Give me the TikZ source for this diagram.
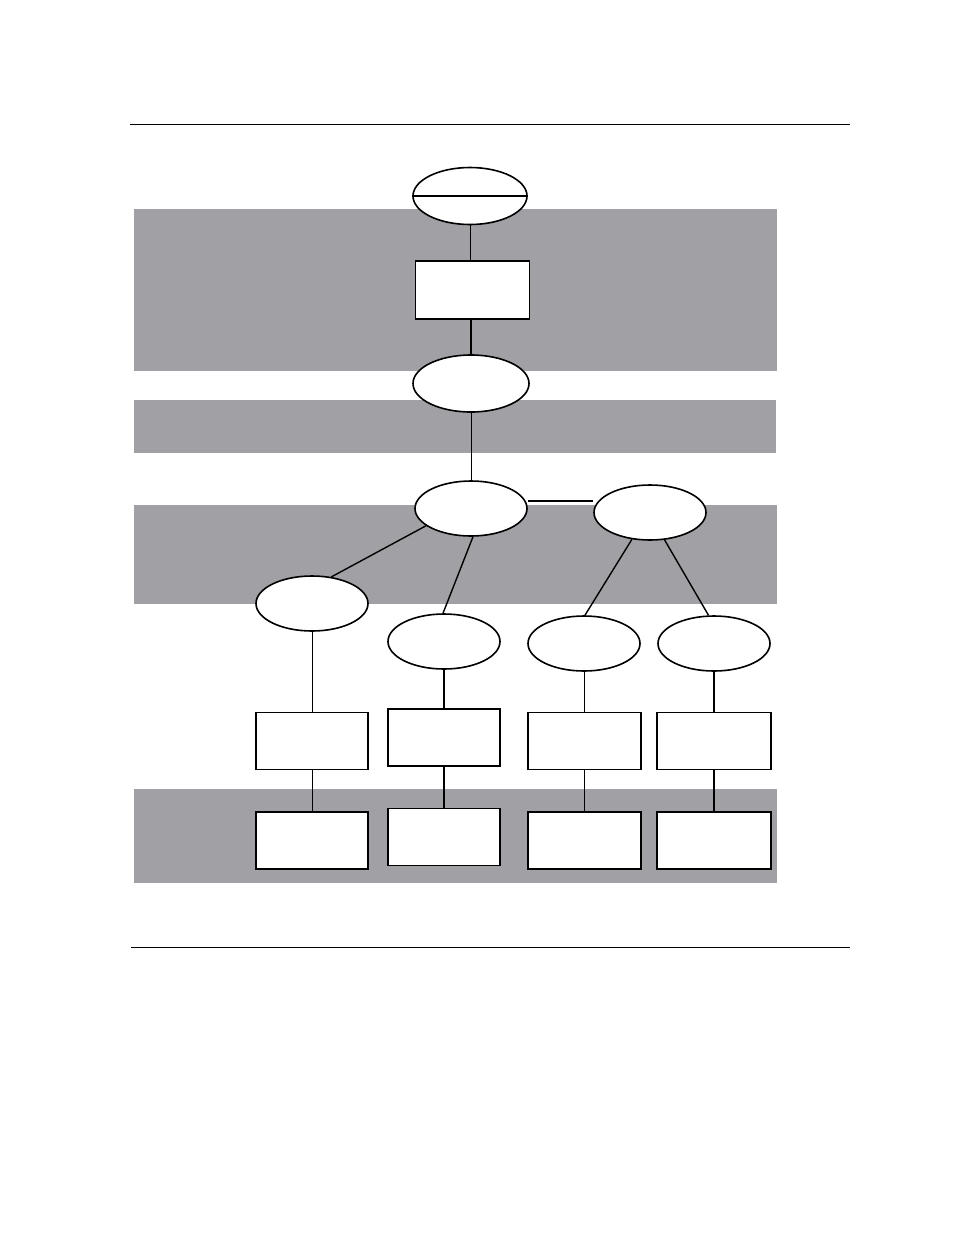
\documentclass[tikz,border=0pt]{standalone}
\usetikzlibrary{shapes.geometric}
\definecolor{bandgray}{RGB}{161,160,165}
\begin{document}
\begin{tikzpicture}[x=1pt,y=-1pt,
  band/.style={fill=bandgray,draw=none},
  oval/.style={ellipse,draw,line width=1.6pt,fill=white,inner sep=0pt,minimum width=112pt,minimum height=55pt},
  boxnode/.style={rectangle,draw,line width=1.8pt,fill=white,inner sep=0pt,minimum width=112pt,minimum height=57pt},
  thin link/.style={line width=1pt},
  thick link/.style={line width=2.6pt}]
\useasboundingbox (0,0) rectangle (954,1235);
% rules
\draw[line width=1pt] (130,124.5) -- (850,124.5);
\draw[line width=1.8pt] (131,947.5) -- (850,947.5);
% bands
\fill[band] (134,209) rectangle (777,371);
\fill[band] (134,400) rectangle (776,453);
\fill[band] (134,505) rectangle (777,604);
\fill[band] (134,789) rectangle (777,883);
% nodes
\node[oval,minimum width=114pt,minimum height=57pt] (e1) at (470,196) {};
\node[boxnode,minimum width=114pt,minimum height=58pt] (b1) at (472.5,290) {};
\node[oval,minimum width=116pt,minimum height=57pt] (e2) at (471,383.5) {};
\node[oval] (e3) at (471,508.5) {};
\node[oval] (e4) at (650,512.5) {};
\node[oval] (e5) at (312,603.5) {};
\node[oval] (e6) at (444,641.5) {};
\node[oval] (e7) at (584,643.5) {};
\node[oval] (e8) at (714,643.5) {};
\node[boxnode] (b5) at (312,741) {};
\node[boxnode] (b6) at (444,737.5) {};
\node[boxnode,minimum width=113pt] (b7) at (584.5,741) {};
\node[boxnode,minimum width=114pt] (b8) at (714,741) {};
\node[boxnode] (b9) at (312,840.5) {};
\node[boxnode] (b10) at (444,837) {};
\node[boxnode,minimum width=113pt] (b11) at (584.5,840.5) {};
\node[boxnode,minimum width=114pt] (b12) at (714,840.5) {};
% divider in top ellipse
\draw[line width=1.8pt] (e1.west) -- (e1.east);
% connectors
\draw[thin link] (e1.south) -- (e1.south |- b1.north);
\draw[thick link] (b1.south -| e2.north) -- (e2.north);
\draw[thin link] (e2.south) -- (e3.north);
\draw[line width=1.4pt] (e3.east |- 0,501) -- (e4.west |- 0,501);
\draw[line width=1.4pt] (e3.201) -- (e5.54);
\draw[line width=1.4pt] (e3.-86) -- (e6.92);
\draw[line width=1.4pt] (e4.236) -- (e7.88);
\draw[line width=1.4pt] (e4.-62) -- (e8.101);
\draw[thin link] (e5.south) -- (b5.north);
\draw[thick link] (e6.south) -- (b6.north);
\draw[thin link] (e7.south) -- (e7.south |- b7.north);
\draw[thick link] (e8.south) -- (b8.north);
\draw[thin link] (b5.south) -- (b9.north);
\draw[thick link] (b6.south) -- (b10.north);
\draw[thin link] (b7.south) -- (b11.north);
\draw[thick link] (b8.south) -- (b12.north);
\end{tikzpicture}
\end{document}
